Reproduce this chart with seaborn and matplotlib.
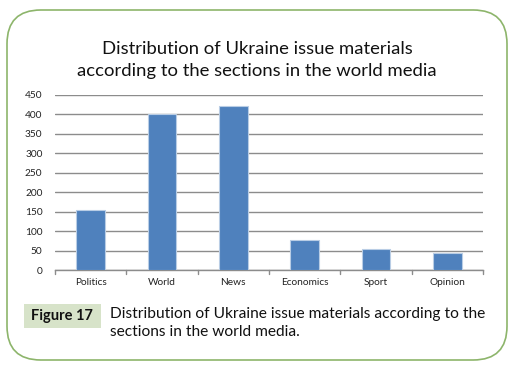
import matplotlib
matplotlib.use("Agg")
import matplotlib.pyplot as plt
from matplotlib.patches import FancyBboxPatch, Rectangle
import seaborn as sns
import pandas as pd

categories = ["Politics", "World", "News", "Economics", "Sport", "Opinion"]
values = [155, 400, 422, 77, 54, 43]
yticks = [0, 50, 100, 150, 200, 250, 300, 350, 400, 450]

title = "Distribution of Ukraine issue materials\naccording to the sections in the world media"
fig_label = "Figure 17"
caption = "Distribution of Ukraine issue materials according to the\nsections in the world media."

sns.set_style("white")
plt.rcParams['font.family'] = ['Lato', 'DejaVu Sans']

W, H = 520, 366
fig = plt.figure(figsize=(W / 100, H / 100), dpi=100)

# outer rounded frame
frame = FancyBboxPatch((7 / W, 6 / H), 500 / W, 350 / H,
                       boxstyle="round,pad=0,rounding_size=0.065",
                       transform=fig.transFigure, facecolor="white",
                       edgecolor="#8DB56B", linewidth=1.2, mutation_aspect=W / H,
                       zorder=-10)
fig.patches.append(frame)

ax = fig.add_axes([55 / W, 96 / H, 428 / W, 175 / H])
ax.set_zorder(5)
df = pd.DataFrame({"cat": categories, "val": values})
sns.barplot(data=df, x="cat", y="val", ax=ax, color="#4F81BD", width=0.4,
            saturation=1, edgecolor="#B9CDE5", linewidth=0.8, zorder=3)
ax.set_ylim(0, 450)
ax.set_xlim(-0.5, len(categories) - 0.5)
ax.set_yticks(yticks)
ax.set_yticklabels([str(v) for v in yticks], fontsize=7.3, color="#222222")
ax.set_xticks(range(len(categories)))
ax.set_xticklabels(categories, fontsize=7.3, color="#222222")
ax.set_xlabel("")
ax.set_ylabel("")
ax.yaxis.grid(True, color="#8C8C8C", linewidth=1, zorder=0)
ax.set_axisbelow(True)
for s in ["top", "right", "left"]:
    ax.spines[s].set_visible(False)
ax.spines["bottom"].set_color("#8C8C8C")
ax.spines["bottom"].set_linewidth(1)
ax.tick_params(axis="y", length=0, pad=9)
ax.tick_params(axis="x", length=0, pad=6)
# category boundary tick marks
for b in range(len(categories) + 1):
    ax.plot([b - 0.5, b - 0.5], [0, -9], color="#8C8C8C", lw=1, clip_on=False,
            transform=ax.transData)
ax.set_facecolor("none")

fig.text(257 / W, 1 - 60 / H, title, ha="center", va="center", fontsize=13.3,
         color="#111111", linespacing=1.4)

fig.patches.append(Rectangle((24 / W, 1 - 328 / H), 77 / W, 24 / H,
                             transform=fig.transFigure, facecolor="#D7E3C9",
                             edgecolor="none", zorder=-5))
fig.text(62 / W, 1 - 316 / H, fig_label, ha="center", va="center", fontsize=10.5,
         fontweight="bold", color="#111111")
fig.text(110 / W, 1 - 323 / H, caption, ha="left", va="center", fontsize=11.2,
         color="#111111", linespacing=1.45)

fig.savefig("out.png", dpi=100)
